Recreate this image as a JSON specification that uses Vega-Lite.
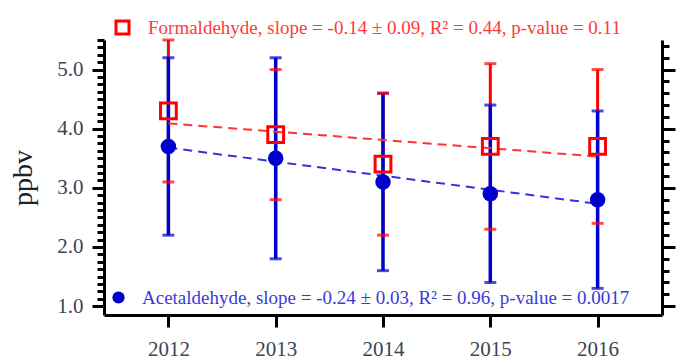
{
  "$schema": "https://vega.github.io/schema/vega-lite/v6.json",
  "width": 558,
  "height": 275,
  "autosize": {"type": "none"},
  "padding": {"left": 104, "top": 40, "right": 15, "bottom": 49},
  "background": "white",
  "config": {"view": {"stroke": null}, "axis": {"grid": false}},
  "datasets": {
    "obs": [
      {"series": "Formaldehyde", "year": 2012, "mean": 4.3, "lo": 3.1, "hi": 5.5},
      {"series": "Formaldehyde", "year": 2013, "mean": 3.9, "lo": 2.8, "hi": 5.0},
      {"series": "Formaldehyde", "year": 2014, "mean": 3.4, "lo": 2.2, "hi": 4.6},
      {"series": "Formaldehyde", "year": 2015, "mean": 3.7, "lo": 2.3, "hi": 5.1},
      {"series": "Formaldehyde", "year": 2016, "mean": 3.7, "lo": 2.4, "hi": 5.0},
      {"series": "Acetaldehyde", "year": 2012, "mean": 3.7, "lo": 2.2, "hi": 5.2},
      {"series": "Acetaldehyde", "year": 2013, "mean": 3.5, "lo": 1.8, "hi": 5.2},
      {"series": "Acetaldehyde", "year": 2014, "mean": 3.1, "lo": 1.6, "hi": 4.6},
      {"series": "Acetaldehyde", "year": 2015, "mean": 2.9, "lo": 1.4, "hi": 4.4},
      {"series": "Acetaldehyde", "year": 2016, "mean": 2.8, "lo": 1.3, "hi": 4.3}
    ],
    "fit": [
      {"series": "Formaldehyde", "year": 2012, "fit": 4.09},
      {"series": "Formaldehyde", "year": 2016, "fit": 3.53},
      {"series": "Acetaldehyde", "year": 2012, "fit": 3.68},
      {"series": "Acetaldehyde", "year": 2016, "fit": 2.73}
    ]
  },
  "resolve": {"axis": {"y": "independent"}},
  "layer": [
    {
      "data": {"name": "obs"},
      "transform": [{"filter": "datum.series === 'Formaldehyde'"}],
      "mark": {"type": "rule", "color": "#ff0000", "strokeWidth": 3},
      "encoding": {
        "x": {"field": "year", "type": "quantitative",
          "scale": {"domain": [2011.4, 2016.6], "nice": false, "zero": false},
          "axis": {"values": [2012, 2013, 2014, 2015, 2016], "format": "d", "labelFont": "Liberation Serif", "labelFontSize": 21, "labelColor": "#3b4356", "tickSize": 12, "tickWidth": 3, "tickColor": "black", "domainColor": "black", "domainWidth": 3, "labelPadding": 11, "title": null, "grid": false}},
        "y": {"field": "lo", "type": "quantitative",
          "scale": {"domain": [0.85, 5.5], "nice": false, "zero": false},
          "axis": {"orient": "left", "values": [1, 2, 3, 4, 5], "format": ".1f", "labelFont": "Liberation Serif", "labelFontSize": 21, "labelColor": "#3b4356", "labelPadding": 9, "tickSize": 12, "tickWidth": 3, "tickColor": "black", "domainColor": "black", "domainWidth": 3, "title": "ppbv", "titleFont": "Liberation Serif", "titleFontSize": 28, "titleFontWeight": "normal", "titleColor": "#222222", "titlePadding": 19, "grid": false}},
        "y2": {"field": "hi"}
      }
    },
    {
      "data": {"name": "obs"},
      "transform": [{"filter": "datum.series === 'Acetaldehyde'"}],
      "mark": {"type": "rule", "color": "#0000cc", "strokeWidth": 3.5},
      "encoding": {
        "x": {"field": "year", "type": "quantitative", "scale": {"domain": [2011.4, 2016.6], "nice": false, "zero": false}},
        "y": {"field": "lo", "type": "quantitative",
          "scale": {"domain": [0.85, 5.5], "nice": false, "zero": false},
          "axis": {"orient": "left", "values": [1.125, 1.25, 1.375, 1.5, 1.625, 1.75, 1.875, 2.125, 2.25, 2.375, 2.5, 2.625, 2.75, 2.875, 3.125, 3.25, 3.375, 3.5, 3.625, 3.75, 3.875, 4.125, 4.25, 4.375, 4.5, 4.625, 4.75, 4.875, 5.125, 5.25, 5.375, 5.5], "labels": false, "domain": false, "tickSize": 7, "tickWidth": 3, "tickColor": "black", "title": null, "grid": false}},
        "y2": {"field": "hi"}
      }
    },
    {
      "data": {"name": "obs"},
      "transform": [{"filter": "datum.series === 'Acetaldehyde'"}, {"fold": ["lo", "hi"], "as": ["k", "v"]}],
      "mark": {"type": "tick", "orient": "horizontal", "color": "#0000cc", "size": 12, "thickness": 3},
      "encoding": {
        "x": {"field": "year", "type": "quantitative", "scale": {"domain": [2011.4, 2016.6], "nice": false, "zero": false}},
        "y": {"field": "v", "type": "quantitative",
          "scale": {"domain": [0.85, 5.5], "nice": false, "zero": false},
          "axis": {"orient": "right", "values": [1, 2, 3, 4, 5], "labels": false, "tickSize": 13, "tickWidth": 3, "tickColor": "black", "domainColor": "black", "domainWidth": 3, "title": null, "grid": false}}
      }
    },
    {
      "data": {"name": "obs"},
      "transform": [{"filter": "datum.series === 'Formaldehyde'"}, {"fold": ["lo", "hi"], "as": ["k", "v"]}],
      "mark": {"type": "tick", "orient": "horizontal", "color": "#ff0000", "size": 12, "thickness": 3},
      "encoding": {
        "x": {"field": "year", "type": "quantitative", "scale": {"domain": [2011.4, 2016.6], "nice": false, "zero": false}},
        "y": {"field": "v", "type": "quantitative",
          "scale": {"domain": [0.85, 5.5], "nice": false, "zero": false},
          "axis": {"orient": "right", "values": [1.2, 1.4, 1.6, 1.8, 2.2, 2.4, 2.6, 2.8, 3.2, 3.4, 3.6, 3.8, 4.2, 4.4, 4.6, 4.8, 5.2, 5.4], "labels": false, "domain": false, "tickSize": 7, "tickWidth": 3, "tickColor": "black", "title": null, "grid": false}}
      }
    },
    {
      "data": {"name": "fit"},
      "transform": [{"filter": "datum.series === 'Formaldehyde'"}],
      "mark": {"type": "line", "color": "#ff3333", "strokeWidth": 2, "strokeDash": [9, 6]},
      "encoding": {
        "x": {"field": "year", "type": "quantitative", "scale": {"domain": [2011.4, 2016.6], "nice": false, "zero": false}},
        "y": {"field": "fit", "type": "quantitative", "scale": {"domain": [0.85, 5.5], "nice": false, "zero": false}, "axis": null}
      }
    },
    {
      "data": {"name": "fit"},
      "transform": [{"filter": "datum.series === 'Acetaldehyde'"}],
      "mark": {"type": "line", "color": "#3333dd", "strokeWidth": 2, "strokeDash": [9, 6]},
      "encoding": {
        "x": {"field": "year", "type": "quantitative", "scale": {"domain": [2011.4, 2016.6], "nice": false, "zero": false}},
        "y": {"field": "fit", "type": "quantitative", "scale": {"domain": [0.85, 5.5], "nice": false, "zero": false}, "axis": null}
      }
    },
    {
      "data": {"name": "obs"},
      "transform": [{"filter": "datum.series === 'Acetaldehyde'"}],
      "mark": {"type": "point", "shape": "circle", "filled": true, "size": 240, "opacity": 1},
      "encoding": {
        "x": {"field": "year", "type": "quantitative", "scale": {"domain": [2011.4, 2016.6], "nice": false, "zero": false}},
        "y": {"field": "mean", "type": "quantitative", "scale": {"domain": [0.85, 5.5], "nice": false, "zero": false}, "axis": null},
        "fill": {"datum": "Acetaldehyde, slope = -0.24 ± 0.03, R² = 0.96, p-value = 0.0017", "type": "nominal",
          "scale": {"range": ["#0000cc"]},
          "legend": {"orient": "none", "legendX": 5, "legendY": 248, "title": null, "symbolSize": 150, "symbolType": "circle", "labelFont": "Liberation Serif", "labelFontSize": 19, "labelColor": "#3a3ad8", "labelLimit": 0, "labelOffset": 14, "padding": 0}}
      }
    },
    {
      "data": {"name": "obs"},
      "transform": [{"filter": "datum.series === 'Formaldehyde'"}],
      "mark": {"type": "point", "shape": "square", "filled": false, "size": 250, "strokeWidth": 3, "opacity": 1},
      "encoding": {
        "x": {"field": "year", "type": "quantitative", "scale": {"domain": [2011.4, 2016.6], "nice": false, "zero": false}},
        "y": {"field": "mean", "type": "quantitative", "scale": {"domain": [0.85, 5.5], "nice": false, "zero": false}, "axis": null},
        "stroke": {"datum": "Formaldehyde, slope = -0.14 ± 0.09, R² = 0.44, p-value = 0.11", "type": "nominal",
          "scale": {"range": ["#ff0000"]},
          "legend": {"orient": "none", "legendX": 9, "legendY": -22, "title": null, "symbolSize": 170, "symbolType": "square", "symbolStrokeWidth": 3, "labelFont": "Liberation Serif", "labelFontSize": 19, "labelColor": "#ff3a3a", "labelLimit": 0, "labelOffset": 16, "padding": 0}}
      }
    }
  ]
}
